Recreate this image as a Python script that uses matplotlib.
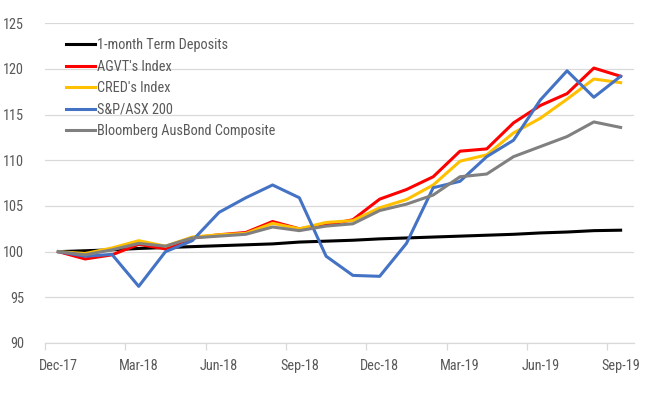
import matplotlib
matplotlib.use("Agg")
import matplotlib.pyplot as plt
from matplotlib import font_manager as fm
from matplotlib.ticker import FixedLocator, NullFormatter

# pick a condensed sans if available
_names = {f.name for f in fm.fontManager.ttflist}
_stretch = 'normal'
_fam = None
for cand in ['Liberation Sans Narrow', 'Arial Narrow', 'Roboto Condensed', 'Open Sans Condensed']:
    if cand in _names:
        _fam = cand
        break
if _fam is None:
    if any(f.name == 'DejaVu Sans' and f.stretch in ('condensed', 'semi-condensed') for f in fm.fontManager.ttflist):
        _fam = 'DejaVu Sans'
        _stretch = 'condensed'
    else:
        _fam = 'Roboto'
plt.rcParams['font.family'] = [_fam, 'DejaVu Sans']
plt.rcParams['font.stretch'] = _stretch
FS = 10.3 if _fam != 'Roboto' else 9.6

months = ["Dec-17", "Jan-18", "Feb-18", "Mar-18", "Apr-18", "May-18", "Jun-18", "Jul-18",
          "Aug-18", "Sep-18", "Oct-18", "Nov-18", "Dec-18", "Jan-19", "Feb-19", "Mar-19",
          "Apr-19", "May-19", "Jun-19", "Jul-19", "Aug-19", "Sep-19"]

term_deposits = [100.0, 100.1, 100.2, 100.35, 100.45, 100.55, 100.65, 100.75, 100.85, 101.05, 101.15,
                 101.25, 101.4, 101.5, 101.6, 101.7, 101.8, 101.9, 102.05, 102.15, 102.3, 102.35]
agvt = [100.0, 99.2, 99.65, 100.8, 100.3, 101.5, 101.85, 102.1, 103.3, 102.5, 102.9,
        103.5, 105.75, 106.8, 108.2, 111.0, 111.25, 114.1, 116.0, 117.3, 120.1, 119.2]
cred = [100.0, 99.8, 100.4, 101.2, 100.6, 101.6, 101.85, 102.0, 103.1, 102.5, 103.2,
        103.4, 104.8, 105.7, 107.3, 109.9, 110.6, 113.0, 114.6, 116.7, 118.9, 118.5]
asx200 = [100.0, 99.5, 99.7, 96.2, 100.0, 101.2, 104.3, 105.9, 107.3, 105.9, 99.5,
          97.4, 97.3, 100.9, 107.0, 107.7, 110.4, 112.2, 116.6, 119.8, 116.9, 119.2]
ausbond = [100.0, 99.65, 100.2, 100.9, 100.6, 101.5, 101.7, 101.9, 102.7, 102.3, 102.8,
           103.05, 104.5, 105.2, 106.2, 108.2, 108.5, 110.4, 111.5, 112.6, 114.2, 113.6]

series = [
    ("1-month Term Deposits", term_deposits, "#000000"),
    ("AGVT's Index", agvt, "#FF0000"),
    ("CRED's Index", cred, "#FFC000"),
    ("S&P/ASX 200", asx200, "#4472C4"),
    ("Bloomberg AusBond Composite", ausbond, "#808080"),
]

fig = plt.figure(figsize=(6.48, 3.96), dpi=100)
ax = fig.add_axes([45/648, 1-343/396, (634-45)/648, (343-23.3)/396])

x = list(range(len(months)))
for name, vals, col in series:
    ax.plot(x, vals, color=col, lw=2.2, label=name)

ax.set_xlim(-0.5, len(months) - 0.5)
ax.set_ylim(90, 125)
ax.set_yticks(range(90, 126, 5))
ax.yaxis.grid(True, color="#d9d9d9", lw=0.9)
ax.set_axisbelow(True)

label_idx = list(range(0, len(months), 3))
ax.set_xticks(label_idx)
ax.set_xticklabels([months[i] for i in label_idx])
ax.xaxis.set_minor_locator(FixedLocator([i - 0.5 for i in label_idx]))
ax.xaxis.set_minor_formatter(NullFormatter())
ax.tick_params(axis='x', which='major', length=0, pad=11.5, labelsize=FS, labelcolor="#595959")
ax.tick_params(axis='x', which='minor', length=5, width=0.9, color="#d9d9d9")
ax.tick_params(axis='y', length=0, pad=15, labelsize=FS, labelcolor="#595959")

for s in ["top", "right", "left"]:
    ax.spines[s].set_visible(False)
ax.spines["bottom"].set_color("#d9d9d9")
ax.spines["bottom"].set_linewidth(0.9)

leg = ax.legend(loc="upper left", bbox_to_anchor=(21/589, 1 - 15/320), frameon=False,
                fontsize=FS, handlelength=2.05, handletextpad=0.1, labelspacing=0.52,
                borderaxespad=0, borderpad=0)
for t in leg.get_texts():
    t.set_color("#595959")

fig.savefig("out.png", dpi=100)
